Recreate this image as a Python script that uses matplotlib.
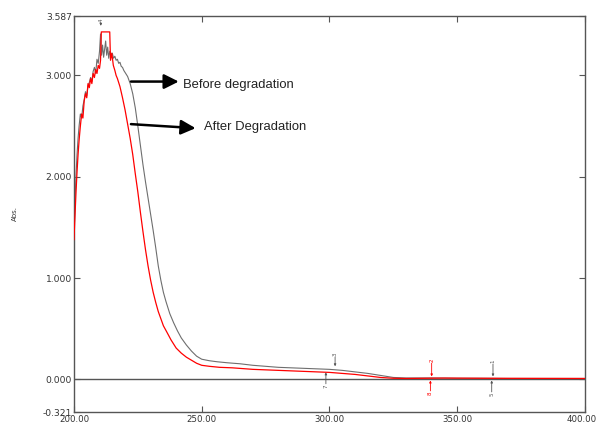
import matplotlib.pyplot as plt
import matplotlib.transforms as mtransforms

# espectro UV antes da degradacao (cinza)
wl_before = [200.0, 200.4, 200.8, 201.2, 201.6, 202.0, 202.5, 203.0, 203.5, 204.0,
             204.5, 205.0, 205.5, 206.0, 206.5, 207.0, 207.5, 208.0, 208.5, 209.0,
             209.5, 210.0, 210.4, 210.8, 211.2, 211.6, 212.0, 212.4, 212.8, 213.2,
             213.6, 214.0, 214.5, 215.0, 215.5, 216.0, 216.5, 217.0, 217.5, 218.0,
             218.5, 219.0, 219.5, 220.0, 221.0, 222.0, 223.0, 224.0, 225.0, 226.0,
             227.0, 228.0, 229.0, 230.0, 231.0, 232.0, 233.0, 234.0, 235.0, 236.0,
             237.5, 239.0, 240.5, 242.0, 244.0, 246.0, 248.0, 250.0, 253.0, 256.0,
             260.0, 265.0, 270.0, 275.0, 280.0, 285.0, 290.0, 295.0, 300.0, 305.0,
             310.0, 315.0, 320.0, 325.0, 330.0, 340.0, 350.0, 360.0, 370.0, 380.0,
             390.0, 400.0]
abs_before = [1.37, 1.75, 2.02, 2.22, 2.38, 2.50, 2.62, 2.58, 2.70, 2.76,
              2.84, 2.80, 2.90, 2.93, 2.98, 2.94, 3.04, 3.08, 3.02, 3.16,
              3.12, 3.24, 3.41, 3.20, 3.30, 3.18, 3.26, 3.34, 3.20, 3.28,
              3.17, 3.24, 3.18, 3.22, 3.17, 3.19, 3.15, 3.16, 3.12, 3.13,
              3.09, 3.08, 3.05, 3.03, 2.99, 2.92, 2.82, 2.68, 2.50, 2.31,
              2.12, 1.95, 1.79, 1.63, 1.47, 1.30, 1.12, 0.98, 0.86, 0.77,
              0.65, 0.56, 0.48, 0.41, 0.34, 0.28, 0.23, 0.20, 0.185, 0.175,
              0.165, 0.155, 0.14, 0.13, 0.12, 0.115, 0.11, 0.105, 0.10, 0.09,
              0.075, 0.06, 0.04, 0.02, 0.015, 0.015, 0.012, 0.012, 0.01, 0.01,
              0.01, 0.01]

# espectro apos a degradacao (vermelho)
wl_after = [200.0, 200.4, 200.8, 201.2, 201.6, 202.0, 202.5, 203.0, 203.5, 204.0,
            204.5, 205.0, 205.5, 206.0, 206.5, 207.0, 207.5, 208.0, 208.5, 209.0,
            209.5, 210.0, 210.4, 210.7, 214.0, 214.3, 214.8, 215.4, 216.0, 216.5,
            217.0, 218.0, 219.0, 220.0, 221.0, 222.0, 223.0, 224.0, 225.0, 226.0,
            227.0, 228.0, 229.0, 230.0, 231.0, 232.0, 233.0, 234.0, 235.0, 236.3,
            238.0, 240.0, 242.0, 244.0, 246.0, 248.0, 250.0, 253.0, 257.0, 262.0,
            270.0, 280.0, 290.0, 300.0, 305.0, 310.0, 315.0, 320.0, 325.0, 330.0,
            345.0, 360.0, 400.0]
abs_after = [1.38, 1.62, 1.85, 2.05, 2.22, 2.36, 2.50, 2.62, 2.58, 2.75,
             2.82, 2.78, 2.92, 2.88, 2.97, 2.92, 3.02, 2.98, 3.06, 3.02,
             3.10, 3.07, 3.15, 3.43, 3.43, 3.15, 3.22, 3.10, 3.05, 3.00,
             2.97, 2.89, 2.78, 2.66, 2.52, 2.38, 2.22, 2.03, 1.85, 1.65,
             1.46, 1.28, 1.12, 0.98, 0.86, 0.76, 0.67, 0.60, 0.53, 0.47,
             0.39, 0.31, 0.26, 0.22, 0.19, 0.16, 0.14, 0.13, 0.12, 0.115,
             0.10, 0.09, 0.08, 0.07, 0.06, 0.05, 0.035, 0.02, 0.012, 0.01,
             0.014, 0.012, 0.01]

xticks = [200, 250, 300, 350, 400]
yticks = [-0.321, 0.0, 1.0, 2.0, 3.0, 3.587]

# picos (acima) e vales (abaixo): comprimento de onda, rotulo, cor, y da ponta, y do texto
peaks = [(210.5, '4', '#555555', 3.49, 3.55),
         (302.2, '3', '#555555', 0.13, 0.25),
         (340.0, '2', 'red', 0.03, 0.19),
         (364.0, '1', '#555555', 0.03, 0.18)]
valleys = [(298.6, '7', '#555555', 0.07, -0.07),
           (339.5, '8', 'red', -0.01, -0.14),
           (363.5, '5', '#555555', -0.01, -0.15)]

fig = plt.figure(figsize=(5.98, 4.29), dpi=100)
ax = fig.add_axes([0.1237, 0.0396, 0.8545, 0.9231])

ax.axhline(0, color='#555555', lw=1.0, zorder=1)
ax.plot(wl_before, abs_before, color='#6e6e6e', lw=0.8, zorder=2)
ax.plot(wl_after, abs_after, color='red', lw=0.9, zorder=3)

for w, lab, c, ytip, ytxt in peaks + valleys:
    ax.annotate('', xy=(w, ytip), xytext=(w, ytxt),
                arrowprops=dict(arrowstyle='-|>', lw=0.6, color=c,
                                mutation_scale=3, shrinkA=2, shrinkB=0))
    ax.text(w, ytxt, lab, fontsize=4, color=c, rotation=90,
            ha='center', va='center')

ax.set_xlim(200, 400)
ax.set_ylim(-0.321, 3.587)
ax.set_xticks(xticks)
ax.set_xticklabels(['%.2f' % v for v in xticks])
ax.set_yticks(yticks)
ax.set_yticklabels(['%.3f' % v for v in yticks])
ax.tick_params(direction='in', length=4, width=0.8, color='#555555',
               labelcolor='#333333', top=True, right=True)
ax.tick_params(axis='x', labelsize=6.2, pad=2.5)
ax.tick_params(axis='y', labelsize=6.6, pad=1.5)
for s in ax.spines.values():
    s.set_color('#555555')
    s.set_linewidth(1.0)

# o ultimo rotulo do eixo x fica encostado na borda
ultimo = ax.get_xticklabels()[-1]
ultimo.set_transform(ultimo.get_transform() +
                     mtransforms.ScaledTranslation(-3 / 100, 0, fig.dpi_scale_trans))

fig.text(0.025, 0.503, 'Abs.', rotation=90, fontsize=5, color='#333333',
         ha='center', va='center')

seta = dict(arrowstyle='-|>', lw=1.8, color='k', mutation_scale=22,
            shrinkA=0, shrinkB=0)
ax.annotate('', xy=(241.0, 2.94), xytext=(222.3, 2.94), arrowprops=seta)
ax.annotate('', xy=(247.6, 2.48), xytext=(222.3, 2.52), arrowprops=seta)
ax.text(242.6, 2.91, 'Before degradation', fontsize=9.4, family='Liberation Sans',
        ha='left', va='center', color='#222222')
ax.text(250.7, 2.49, 'After Degradation', fontsize=9.4, family='Liberation Sans',
        ha='left', va='center', color='#222222')

fig.savefig('out.png', dpi=100)
